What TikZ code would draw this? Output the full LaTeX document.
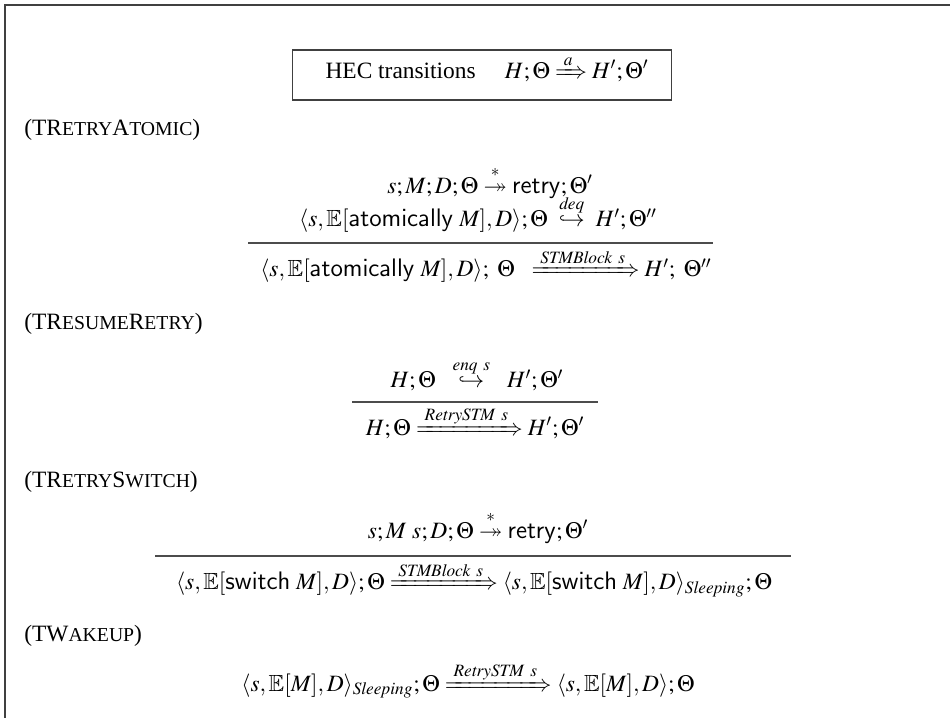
\documentclass[tikz,border=0pt]{standalone}
\usepackage{amssymb}
\usepackage{mathtools}
\usepackage{mathptmx}
\usepackage{fontspec}
\setmainfont{Liberation Serif}
\setsansfont{Open Sans}[Scale=0.9]
\usetikzlibrary{positioning}

% small capitals built from scaled upper-case letters
\newcommand\smcaps[1]{{\fontsize{11.2}{13}\selectfont #1}}
\newcommand\kw[1]{\mathsf{#1}}

\begin{document}
\begin{tikzpicture}[x=0.5684pt, y=-0.5684pt,
  every node/.style={font=\fontsize{13.3}{16}\selectfont},
  framestyle/.style={draw=black!75, line width=0.7pt},
  rulebar/.style={draw=black!70, line width=0.6pt},
  formula/.style={inner sep=0pt, anchor=center},
  rulename/.style={inner sep=0pt, anchor=west},
  headbox/.style={draw=black!75, line width=0.7pt, minimum width=215pt, minimum height=28.4pt, inner sep=0pt}]
\useasboundingbox (0,0) rectangle (950,718);

% outer frame (top and left edges)
\coordinate (fbl) at (5,718);
\coordinate (ftl) at (5,5);
\coordinate (ftr) at (950,5);
\draw[framestyle] (fbl) -- (ftl) -- (ftr);

% heading box
\node[headbox] (head) at (482,75) {};
\node[formula] (headtext) at (487,75) {HEC transitions\quad\ $H;\Theta \xRightarrow{\;a\;} H';\Theta'$};

% (TRetryAtomic)
\node[rulename] (n1) at (24,130) {(TR\smcaps{ETRY}A\smcaps{TOMIC})};
\node[formula] (p11) at (490,182) {$s;M;D;\Theta \stackrel{*}{\twoheadrightarrow} \kw{retry};\Theta'$};
\node[formula] (p12) at (478,214) {$\langle s,\mathbb{E}[\kw{atomically}\ M],D\rangle;\Theta\ \stackrel{\mathit{deq}}{\hookrightarrow}\ H';\Theta''$};
\coordinate (b1l) at (248,243);
\coordinate (b1r) at (713,243);
\draw[rulebar] (b1l) -- (b1r);
\node[formula] (c1) at (486,271) {$\langle s,\mathbb{E}[\kw{atomically}\ M],D\rangle;\ \Theta\ \ \xRightarrow{\;\mathit{STMBlock}\ s\;} H';\ \Theta''$};

% (TResumeRetry)
\node[rulename] (n2) at (24,324) {(TR\smcaps{ESUME}R\smcaps{ETRY})};
\node[formula] (p21) at (477,376) {$H;\Theta\ \ \stackrel{\mathit{enq}\ s}{\hookrightarrow}\ \ H';\Theta'$};
\coordinate (b2l) at (352,402);
\coordinate (b2r) at (598,402);
\draw[rulebar] (b2l) -- (b2r);
\node[formula] (c2) at (475,429) {$H;\Theta \xRightarrow{\;\mathit{RetrySTM}\ s\;} H';\Theta'$};

% (TRetrySwitch)
\node[rulename] (n3) at (24,482) {(TR\smcaps{ETRY}S\smcaps{WITCH})};
\node[formula] (p31) at (478,527) {$s;M\ s;D;\Theta \stackrel{*}{\twoheadrightarrow} \kw{retry};\Theta'$};
\coordinate (b3l) at (155,556);
\coordinate (b3r) at (791,556);
\draw[rulebar] (b3l) -- (b3r);
\node[formula] (c3) at (474,584) {$\langle s,\mathbb{E}[\kw{switch}\ M],D\rangle;\Theta \xRightarrow{\;\mathit{STMBlock}\ s\;} \langle s,\mathbb{E}[\kw{switch}\ M],D\rangle_{\mathit{Sleeping}};\Theta$};

% (TWakeup)
\node[rulename] (n4) at (24,636) {(TW\smcaps{AKEUP})};
\node[formula] (w1) at (468,685) {$\langle s,\mathbb{E}[M],D\rangle_{\mathit{Sleeping}};\Theta \xRightarrow{\;\mathit{RetrySTM}\ s\;} \langle s,\mathbb{E}[M],D\rangle;\Theta$};
\end{tikzpicture}
\end{document}
